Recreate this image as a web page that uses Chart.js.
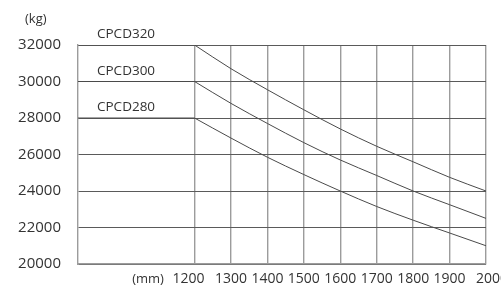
<!DOCTYPE html>
<html lang="en">
<head>
  <meta charset="UTF-8">
  <title>CPCD load chart</title>
  <script src="https://cdn.jsdelivr.net/npm/chart.js"></script>
  <style>
    html, body { margin: 0; padding: 0; background: #fff; overflow: hidden; }
    #wrap { position: relative; width: 530px; height: 292px; }
  </style>
</head>
<body>
  <div id="wrap"><canvas id="loadChart"></canvas></div>

  <script>
    // load centre distance (mm) and rated capacity (kg)
    const distances = [880, 1200, 1300, 1400, 1500, 1600, 1700, 1800, 1900, 2000];
    const cpcd320 = [32000, 32000, 30700, 29550, 28450, 27400, 26450, 25600, 24750, 24000];
    const cpcd300 = [30000, 30000, 28800, 27700, 26650, 25700, 24850, 24000, 23250, 22500];
    const cpcd280 = [28000, 28000, 26900, 25850, 24900, 24000, 23150, 22400, 21700, 21000];
    const seriesNames = ['CPCD320', 'CPCD300', 'CPCD280'];
    const xTicks = [1200, 1300, 1400, 1500, 1600, 1700, 1800, 1900, 2000];
    const yTicks = [20000, 22000, 24000, 26000, 28000, 30000, 32000];

    const textColor = '#333';
    const font = '"Open Sans", "Noto Sans", sans-serif';

    const toPoints = vals => vals.map((v, i) => ({ x: distances[i], y: v }));

    // unit captions, x labels (end ones sit a bit outward in the original) and series names
    const captions = {
      id: 'captions',
      afterDraw(chart) {
        const c = chart.ctx, x = chart.scales.x, y = chart.scales.y;
        c.save();
        c.fillStyle = textColor;
        c.font = '13px ' + font;
        c.textBaseline = 'middle';
        c.textAlign = 'left';
        c.fillText('(kg)', 25, 19);
        c.textAlign = 'center';
        c.fillText('(mm)', 148, 279);
        c.font = '14px ' + font;
        xTicks.forEach((v, i) => {
          let nudge = 0;
          if (i === 0) nudge = -6;
          if (i === xTicks.length - 1) nudge = 6;
          c.fillText(String(v), x.getPixelForValue(v) + nudge, 279);
        });
        c.font = '13.5px ' + font;
        c.textAlign = 'left';
        c.textBaseline = 'alphabetic';
        [cpcd320, cpcd300, cpcd280].forEach((vals, i) => {
          c.fillText(seriesNames[i], chart.chartArea.left + 19, y.getPixelForValue(vals[0]) - 7);
        });
        c.restore();
      }
    };

    const lineStyle = { borderColor: '#4a4a4a', borderWidth: 1, pointRadius: 0, fill: false };
    const datasets = [];
    [cpcd320, cpcd300, cpcd280].forEach((vals, i) => {
      const pts = toPoints(vals);
      // flat part up to 1200 mm, then the derating curve
      datasets.push({ label: seriesNames[i], data: pts.slice(0, 2), tension: 0, ...lineStyle });
      datasets.push({ label: seriesNames[i], data: pts.slice(1), cubicInterpolationMode: 'monotone', ...lineStyle });
    });

    new Chart(document.getElementById('loadChart'), {
      type: 'line',
      data: { datasets },
      options: {
        responsive: true,
        maintainAspectRatio: false,
        animation: false,
        layout: { padding: { top: 45, right: 44, bottom: 0, left: 0 } },
        plugins: { legend: { display: false }, tooltip: { enabled: false } },
        scales: {
          x: {
            type: 'linear',
            min: distances[0],
            max: 2000,
            afterBuildTicks: s => { s.ticks = xTicks.map(v => ({ value: v })); },
            afterFit: s => { s.height = 28; },
            grid: { color: '#9c9c9c', lineWidth: 1.4, drawTicks: false },
            border: { color: '#9c9c9c', width: 1.4 },
            ticks: { display: false }
          },
          y: {
            min: 20000,
            max: 32000,
            afterBuildTicks: s => { s.ticks = yTicks.map(v => ({ value: v })); },
            afterFit: s => { s.width = 78; },
            grid: { color: '#5a5a5a', lineWidth: 1, drawTicks: false },
            border: { color: '#9c9c9c', width: 1.4 },
            ticks: { color: textColor, font: { family: font, size: 15 }, padding: 17, callback: v => String(v) }
          }
        }
      },
      plugins: [captions]
    });
  </script>
</body>
</html>
